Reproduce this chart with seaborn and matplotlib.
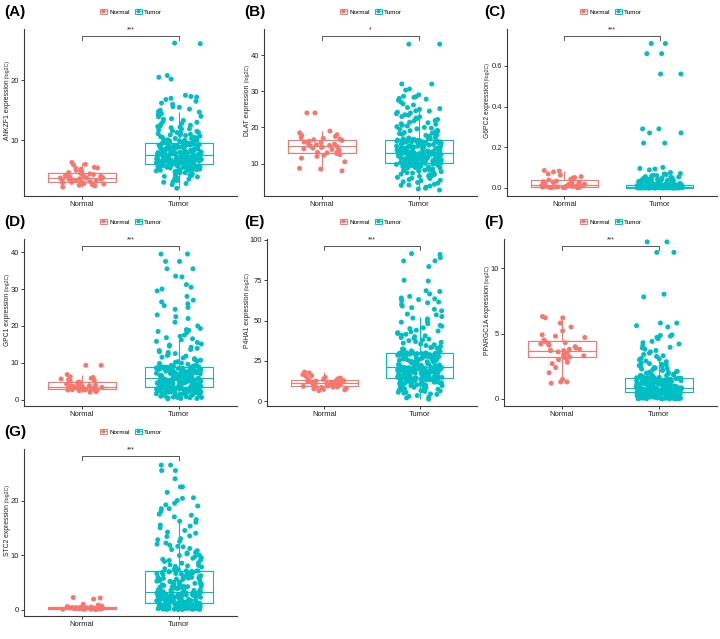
import numpy as np
import pandas as pd
import matplotlib
matplotlib.use("Agg")
import matplotlib.pyplot as plt
import matplotlib.transforms as mtransforms
import seaborn as sns
from matplotlib.patches import Patch
from matplotlib.lines import Line2D

# ---- values ----
genes = ["ANKZF1", "DLAT", "G6PC2", "GPC1", "P4HA1", "PPARGC1A", "STC2"]
panel_labels = ["(A)", "(B)", "(C)", "(D)", "(E)", "(F)", "(G)"]
signif = ["***", "*", "***", "***", "***", "***", "***"]
groups = ["Normal", "Tumor"]

yticks = [[10, 20], [10, 20, 30, 40], [0.0, 0.2, 0.4, 0.6], [0, 10, 20, 30, 40],
          [0, 25, 50, 75, 100], [0, 5, 10], [0, 10, 20]]
ytick_labels = [["10", "20"], ["10", "20", "30", "40"], ["0.0", "0.2", "0.4", "0.6"],
                ["0", "10", "20", "30", "40"], ["0", "25", "50", "75", "100"],
                ["0", "5", "10"], ["0", "10", "20"]]
ylims = [(0.8, 28.5), (1.2, 47.1), (-0.038, 0.78), (-1.6, 43.5),
         (-2.7, 100.4), (-0.5, 12.2), (-1.1, 29.4)]

normal_ankzf1 = [2.2, 2.4, 2.5, 2.6, 2.7, 2.8, 2.8, 2.9, 3.0, 3.0, 3.1, 3.2, 3.3, 3.3, 3.4, 3.5,
                 3.5, 3.6, 3.6, 3.7, 3.7, 3.8, 3.9, 3.9, 4.0, 4.1, 4.2, 4.3, 4.4, 4.5, 4.6, 4.8,
                 5.0, 5.2, 5.3, 5.4, 5.5, 5.9, 6.0, 6.3]
tumor_ankzf1 = [2.0, 2.6, 2.8, 3.1, 3.3, 3.5, 3.7, 3.9, 4.0, 4.2, 4.3, 4.5, 4.6, 4.7, 4.8, 4.9,
                5.0, 5.0, 5.1, 5.2, 5.2, 5.3, 5.4, 5.4, 5.5, 5.5, 5.6, 5.6, 5.7, 5.7, 5.8, 5.8,
                5.9, 5.9, 5.9, 6.0, 6.0, 6.0, 6.1, 6.1,
                3.0, 3.4, 3.8, 4.1, 4.4, 4.6, 4.8, 5.0, 5.1, 5.2, 5.3, 5.4, 5.5, 5.6, 5.6, 5.7,
                5.7, 5.8, 5.8, 5.9, 5.9, 6.0, 6.0, 6.05, 6.1,
                6.1, 6.2, 6.2, 6.2, 6.3, 6.3, 6.3, 6.4, 6.4, 6.4, 6.5, 6.5, 6.5, 6.6, 6.6, 6.6,
                6.7, 6.7, 6.8, 6.8, 6.8, 6.9, 6.9, 6.9, 7.0, 7.0, 7.0, 7.1, 7.1, 7.1, 7.2, 7.2,
                7.2, 7.3, 7.3, 7.3, 7.4, 7.4, 7.4, 7.5,
                6.15, 6.2, 6.25, 6.3, 6.35, 6.4, 6.45, 6.5, 6.55, 6.6, 6.65, 6.7, 6.75, 6.8,
                6.85, 6.9, 6.95, 7.0, 7.05, 7.1, 7.15, 7.2, 7.3, 7.4, 7.45,
                7.5, 7.6, 7.6, 7.7, 7.7, 7.8, 7.8, 7.9, 7.9, 8.0, 8.0, 8.1, 8.1, 8.2, 8.2, 8.3,
                8.4, 8.4, 8.5, 8.5, 8.6, 8.7, 8.7, 8.8, 8.8, 8.9, 9.0, 9.0, 9.1, 9.1, 9.2, 9.2,
                9.3, 9.3, 9.4, 9.4, 9.5, 9.5, 9.6, 9.6,
                7.55, 7.65, 7.75, 7.85, 7.95, 8.05, 8.15, 8.25, 8.35, 8.45, 8.55, 8.65, 8.75,
                8.85, 8.95, 9.05, 9.15, 9.25, 9.3, 9.35, 9.4, 9.45, 9.5, 9.55, 9.6,
                9.7, 9.8, 9.9, 10.0, 10.1, 10.2, 10.3, 10.4, 10.5, 10.6, 10.8, 10.9, 11.0, 11.2,
                11.3, 11.5, 11.7, 11.9, 12.1, 12.3, 12.5, 12.8, 13.0, 13.3, 13.6, 14.0, 14.4,
                14.8, 15.2, 15.6, 16.0, 16.5, 17.0, 17.2, 17.5, 20.2, 20.5, 20.8, 26.1, 26.2,
                9.7, 9.85, 10.0, 10.15, 10.3, 10.5, 10.7, 10.9, 11.1, 11.3, 11.6, 11.9, 12.2,
                12.4, 12.7, 13.1, 13.5, 13.9, 14.3, 14.7, 15.0, 15.5, 16.2, 16.8, 17.3]

normal_dlat = [8.0, 8.5, 8.7, 10.5, 11.5, 12.0, 12.3, 12.5, 12.8, 13.0, 13.1, 13.3, 13.5, 13.7,
               13.9, 14.1, 14.3, 14.5, 14.6, 14.7, 14.9, 15.0, 15.2, 15.4, 15.6, 15.8, 16.0,
               16.2, 16.4, 16.6, 16.8, 17.0, 17.2, 17.5, 17.8, 18.0, 18.5, 19.0, 24.0, 24.0]
tumor_dlat = [2.7, 3.0, 3.5, 3.8, 4.0, 4.3, 4.6, 5.0, 5.3, 5.6, 5.9, 6.2, 6.5, 6.7, 6.9, 7.1,
              7.3, 7.5, 7.7, 7.9, 8.1, 8.3, 8.5, 8.6, 8.8, 8.9, 9.0, 9.2, 9.3, 9.4, 9.5, 9.6,
              9.7, 9.8, 9.9, 9.9, 10.0, 10.0, 10.1, 10.1,
              3.2, 4.1, 4.8, 5.4, 6.0, 6.6, 7.0, 7.4, 7.8, 8.2, 8.4, 8.7, 8.9, 9.1, 9.3, 9.45,
              9.55, 9.65, 9.75, 9.85, 9.9, 9.95, 10.0, 10.05, 10.1,
              10.2, 10.3, 10.4, 10.5, 10.6, 10.7, 10.8, 10.9, 11.0, 11.1, 11.2, 11.3, 11.4,
              11.5, 11.5, 11.6, 11.7, 11.8, 11.9, 12.0, 12.0, 12.1, 12.2, 12.3, 12.3, 12.4,
              12.5, 12.5, 12.6, 12.6, 12.7, 12.7, 12.8, 12.8, 12.9, 12.9, 12.9, 13.0, 13.0, 13.0,
              10.2, 10.35, 10.5, 10.65, 10.8, 10.95, 11.1, 11.25, 11.4, 11.55, 11.7, 11.85,
              12.0, 12.1, 12.2, 12.3, 12.4, 12.5, 12.6, 12.7, 12.75, 12.8, 12.85, 12.9, 12.95,
              13.1, 13.2, 13.3, 13.4, 13.5, 13.6, 13.7, 13.8, 13.9, 14.0, 14.1, 14.2, 14.3,
              14.4, 14.5, 14.6, 14.7, 14.8, 14.9, 15.0, 15.1, 15.2, 15.3, 15.4, 15.5, 15.6,
              15.7, 15.8, 15.9, 16.0, 16.0, 16.1, 16.1, 16.2, 16.2, 16.3, 16.3, 16.4, 16.4, 16.4,
              13.05, 13.2, 13.35, 13.5, 13.65, 13.8, 13.95, 14.1, 14.25, 14.4, 14.55, 14.7,
              14.85, 15.0, 15.15, 15.3, 15.45, 15.6, 15.75, 15.9, 16.0, 16.1, 16.2, 16.3, 16.35,
              16.5, 16.7, 16.9, 17.1, 17.3, 17.5, 17.8, 18.0, 18.3, 18.6, 18.9, 19.2, 19.5,
              19.8, 20.2, 20.6, 21.0, 21.4, 21.8, 22.2, 22.6, 23.0, 23.4, 23.8, 24.2, 24.6,
              25.0, 25.5, 26.2, 27.0, 27.8, 28.3, 28.6, 29.0, 30.3, 30.6, 32.0, 32.0, 43.0, 43.0,
              16.6, 16.8, 17.0, 17.4, 17.7, 18.1, 18.4, 18.8, 19.1, 19.6, 20.0, 20.4, 20.9,
              21.3, 21.9, 22.4, 22.9, 23.5, 24.0, 24.5, 25.2, 26.5, 27.5, 28.0, 28.5]

normal_g6pc2 = [0.000, 0.000, 0.001, 0.001, 0.002, 0.002, 0.003, 0.003, 0.004, 0.005, 0.005,
                0.006, 0.007, 0.008, 0.009, 0.010, 0.011, 0.012, 0.013, 0.014, 0.016, 0.018,
                0.020, 0.022, 0.024, 0.026, 0.028, 0.030, 0.033, 0.036, 0.038, 0.042, 0.048,
                0.050, 0.055, 0.062, 0.068, 0.078, 0.082, 0.085]
tumor_g6pc2 = [0.0, 0.0, 0.0, 0.0, 0.0, 0.0, 0.0, 0.0, 0.0, 0.0, 0.0, 0.0, 0.0, 0.0, 0.0, 0.0,
               0.0, 0.0, 0.0, 0.0, 0.0, 0.0, 0.0, 0.0, 0.0003, 0.0003, 0.0003, 0.0003, 0.0005,
               0.0005, 0.0005, 0.0005, 0.0008, 0.0008, 0.0008, 0.0008, 0.001, 0.001, 0.001, 0.001,
               0.0, 0.0, 0.0, 0.0, 0.0, 0.0, 0.0, 0.0, 0.0, 0.0, 0.0, 0.0, 0.0, 0.0, 0.0,
               0.0005, 0.0005, 0.0005, 0.0005, 0.0005, 0.001, 0.001, 0.001, 0.001, 0.001,
               0.0011, 0.0012, 0.0013, 0.0014, 0.0015, 0.0016, 0.0017, 0.0018, 0.0019, 0.002,
               0.0021, 0.0022, 0.0023, 0.0024, 0.0025, 0.0026, 0.0027, 0.0028, 0.0029, 0.003,
               0.003, 0.0031, 0.0032, 0.0033, 0.0033, 0.0034, 0.0035, 0.0035, 0.0036, 0.0036,
               0.0037, 0.0037, 0.0038, 0.0038, 0.0039, 0.0039, 0.004, 0.004, 0.004, 0.004,
               0.0012, 0.0014, 0.0016, 0.0018, 0.002, 0.0022, 0.0024, 0.0026, 0.0028, 0.003,
               0.0031, 0.0032, 0.0033, 0.0034, 0.0035, 0.0036, 0.0037, 0.0038, 0.0038, 0.0039,
               0.0039, 0.004, 0.004, 0.004, 0.004,
               0.0042, 0.0044, 0.0046, 0.0048, 0.005, 0.0052, 0.0054, 0.0056, 0.0058, 0.006,
               0.0062, 0.0064, 0.0066, 0.0068, 0.007, 0.0072, 0.0074, 0.0076, 0.0078, 0.008,
               0.0082, 0.0084, 0.0086, 0.0088, 0.009, 0.0092, 0.0094, 0.0096, 0.0098, 0.010,
               0.0102, 0.0104, 0.0106, 0.0108, 0.011, 0.0112, 0.0114, 0.0116, 0.0118, 0.012,
               0.0045, 0.005, 0.0055, 0.006, 0.0065, 0.007, 0.0075, 0.008, 0.0085, 0.009,
               0.0095, 0.010, 0.0103, 0.0106, 0.0109, 0.0112, 0.0115, 0.0118, 0.012, 0.012,
               0.005, 0.006, 0.007, 0.008, 0.009,
               0.013, 0.014, 0.015, 0.016, 0.017, 0.018, 0.019, 0.020, 0.021, 0.023, 0.025,
               0.027, 0.029, 0.031, 0.033, 0.035, 0.037, 0.039, 0.041, 0.043, 0.045, 0.048,
               0.051, 0.055, 0.060, 0.065, 0.070, 0.088, 0.092, 0.100, 0.22, 0.22, 0.27, 0.27,
               0.29, 0.29, 0.56, 0.56, 0.66, 0.66, 0.71, 0.71,
               0.013, 0.015, 0.017, 0.019, 0.021, 0.022, 0.024, 0.026, 0.028, 0.030, 0.032,
               0.034, 0.036, 0.038, 0.040, 0.042, 0.044, 0.046, 0.050, 0.053, 0.057, 0.062,
               0.068, 0.075, 0.095]

normal_gpc1 = [2.0, 2.2, 2.3, 2.4, 2.5, 2.6, 2.6, 2.7, 2.8, 2.8, 2.9, 3.0, 3.0, 3.1, 3.2, 3.2,
               3.3, 3.3, 3.4, 3.5, 3.5, 3.6, 3.7, 3.8, 3.9, 4.0, 4.2, 4.4, 4.6, 4.8, 5.0, 5.2,
               5.4, 5.6, 5.8, 6.0, 6.2, 6.8, 9.3, 9.3]
tumor_gpc1 = [0.2, 0.3, 0.4, 0.5, 0.6, 0.7, 0.8, 0.9, 1.0, 1.1, 1.2, 1.3, 1.4, 1.5, 1.6, 1.7,
              1.8, 1.9, 2.0, 2.1, 2.2, 2.3, 2.4, 2.5, 2.5, 2.6, 2.7, 2.8, 2.8, 2.9, 2.9, 3.0,
              3.0, 3.1, 3.1, 3.2, 3.2, 3.2, 3.3, 3.3,
              0.3, 0.6, 0.9, 1.2, 1.4, 1.6, 1.8, 2.0, 2.2, 2.3, 2.4, 2.5, 2.6, 2.7, 2.75, 2.8,
              2.85, 2.9, 2.95, 3.0, 3.05, 3.1, 3.15, 3.2, 3.25,
              3.4, 3.5, 3.5, 3.6, 3.7, 3.8, 3.8, 3.9, 4.0, 4.1, 4.1, 4.2, 4.3, 4.4, 4.4, 4.5,
              4.6, 4.6, 4.7, 4.8, 4.8, 4.9, 5.0, 5.0, 5.1, 5.2, 5.2, 5.3, 5.3, 5.4, 5.4, 5.5,
              5.5, 5.6, 5.6, 5.7, 5.7, 5.7, 5.8, 5.8,
              3.35, 3.45, 3.55, 3.65, 3.75, 3.85, 3.95, 4.05, 4.15, 4.25, 4.35, 4.45, 4.55,
              4.65, 4.75, 4.85, 4.95, 5.05, 5.15, 5.25, 5.35, 5.45, 5.55, 5.65, 5.75,
              5.9, 6.0, 6.1, 6.2, 6.3, 6.4, 6.5, 6.6, 6.7, 6.8, 6.9, 7.0, 7.0, 7.1, 7.2, 7.3,
              7.4, 7.5, 7.6, 7.7, 7.7, 7.8, 7.9, 8.0, 8.0, 8.1, 8.2, 8.2, 8.3, 8.4, 8.4, 8.5,
              8.5, 8.6, 8.6, 8.7, 8.7, 8.8, 8.8, 8.8,
              5.95, 6.1, 6.25, 6.4, 6.55, 6.7, 6.85, 7.0, 7.15, 7.3, 7.45, 7.6, 7.75, 7.9, 8.0,
              8.1, 8.2, 8.3, 8.4, 8.5, 8.55, 8.6, 8.65, 8.7, 8.75,
              9.0, 9.3, 9.6, 9.9, 10.3, 10.7, 11.1, 11.5, 12.0, 12.5, 13.0, 13.6, 14.2, 14.8,
              15.5, 16.2, 16.8, 17.5, 18.2, 18.8, 19.3, 20.0, 21.0, 22.5, 23.0, 24.5, 25.5,
              26.5, 27.0, 29.5, 30.0, 31.2, 33.3, 33.5, 35.5, 35.5, 37.5, 37.5, 39.5, 39.5,
              8.9, 9.1, 9.4, 9.8, 10.1, 10.5, 10.9, 11.3, 11.8, 12.3, 12.8, 13.3, 13.9, 14.5,
              15.1, 15.8, 16.5, 17.2, 18.5, 19.0, 22.0, 25.0, 26.0, 28.0, 30.5]

normal_p4ha1 = [6.5, 7.0, 7.3, 7.6, 8.0, 8.3, 8.5, 8.7, 8.9, 9.0, 9.2, 9.4, 9.6, 9.8, 10.0,
                10.2, 10.4, 10.6, 10.8, 10.9, 11.1, 11.3, 11.5, 11.7, 11.9, 12.1, 12.3, 12.5,
                12.7, 13.0, 13.2, 13.5, 13.9, 14.3, 14.8, 15.2, 15.8, 16.5, 17.5, 18.0]
tumor_p4ha1 = [1.2, 2.5, 3.5, 4.2, 5.0, 5.5, 6.0, 6.5, 7.0, 7.4, 7.8, 8.2, 8.6, 9.0, 9.3, 9.6,
               9.9, 10.2, 10.5, 10.8, 11.0, 11.3, 11.5, 11.8, 12.0, 12.2, 12.4, 12.6, 12.8,
               13.0, 13.2, 13.4, 13.6, 13.8, 13.9, 14.0, 14.2, 14.3, 14.4, 14.5,
               2.0, 3.0, 4.5, 5.5, 6.3, 7.0, 7.7, 8.4, 9.0, 9.6, 10.1, 10.6, 11.1, 11.5, 11.9,
               12.3, 12.7, 13.0, 13.3, 13.6, 13.8, 14.0, 14.2, 14.35, 14.45,
               14.7, 14.9, 15.1, 15.3, 15.5, 15.7, 15.9, 16.1, 16.3, 16.5, 16.7, 16.9, 17.1,
               17.3, 17.5, 17.7, 17.9, 18.1, 18.3, 18.5, 18.7, 18.9, 19.1, 19.3, 19.4, 19.5,
               19.7, 19.8, 19.9, 20.0, 20.1, 20.2, 20.3, 20.4, 20.5, 20.6, 20.7, 20.8, 20.9, 21.0,
               14.6, 14.9, 15.2, 15.5, 15.8, 16.1, 16.4, 16.7, 17.0, 17.3, 17.6, 17.9, 18.2,
               18.5, 18.8, 19.1, 19.4, 19.6, 19.8, 20.0, 20.2, 20.4, 20.6, 20.8, 20.95,
               21.2, 21.4, 21.6, 21.8, 22.0, 22.3, 22.6, 22.9, 23.2, 23.5, 23.8, 24.1, 24.4,
               24.7, 25.0, 25.3, 25.6, 25.9, 26.2, 26.5, 26.8, 27.1, 27.3, 27.5, 27.7, 27.9,
               28.1, 28.3, 28.5, 28.7, 28.9, 29.1, 29.3, 29.4, 29.5, 29.6, 29.7, 29.8, 29.9, 30.0,
               21.3, 21.7, 22.1, 22.5, 22.9, 23.3, 23.7, 24.1, 24.5, 24.9, 25.3, 25.7, 26.1,
               26.5, 26.9, 27.3, 27.7, 28.1, 28.5, 28.8, 29.1, 29.4, 29.6, 29.8, 29.95,
               30.5, 31.2, 32.0, 32.8, 33.5, 34.5, 35.5, 36.5, 37.5, 38.5, 39.5, 40.5, 41.5,
               42.5, 43.5, 45.0, 46.5, 48.0, 49.5, 51.0, 52.5, 54.0, 56.0, 58.0, 60.0, 61.5,
               62.5, 63.0, 63.5, 65.0, 66.5, 68.5, 74.5, 75.0, 83.5, 87.0, 87.0, 89.0, 91.0, 91.5,
               30.8, 31.5, 32.4, 33.2, 34.0, 35.0, 36.0, 37.0, 38.0, 39.0, 40.0, 41.0, 42.0,
               43.0, 44.0, 45.5, 47.0, 49.0, 51.5, 53.5, 57.0, 59.0, 61.0, 64.0, 68.0]

normal_ppargc1a = [1.2, 1.3, 1.3, 1.5, 2.0, 2.4, 2.7, 2.8, 3.0, 3.1, 3.2, 3.2, 3.3, 3.4, 3.5,
                   3.5, 3.6, 3.6, 3.7, 3.7, 3.7, 3.8, 3.8, 3.9, 4.0, 4.1, 4.2, 4.2, 4.3, 4.4,
                   4.5, 4.7, 4.8, 4.9, 5.2, 5.5, 5.8, 6.2, 6.2, 6.3]
tumor_ppargc1a = [0.00, 0.01, 0.02, 0.03, 0.04, 0.05, 0.06, 0.07, 0.08, 0.09, 0.10, 0.12, 0.14,
                  0.16, 0.18, 0.20, 0.21, 0.22, 0.24, 0.25, 0.27, 0.28, 0.30, 0.31, 0.32, 0.34,
                  0.35, 0.36, 0.38, 0.39, 0.40, 0.41, 0.42, 0.43, 0.44, 0.45, 0.46, 0.47, 0.48, 0.50,
                  0.0, 0.0, 0.02, 0.04, 0.06, 0.08, 0.10, 0.13, 0.16, 0.19, 0.22, 0.25, 0.28, 0.30,
                  0.32, 0.34, 0.36, 0.38, 0.40, 0.42, 0.44, 0.45, 0.46, 0.47, 0.49,
                  0.51, 0.52, 0.53, 0.54, 0.55, 0.56, 0.57, 0.58, 0.59, 0.60, 0.61, 0.62, 0.63,
                  0.64, 0.65, 0.66, 0.67, 0.68, 0.69, 0.70, 0.71, 0.72, 0.73, 0.74, 0.75, 0.76,
                  0.77, 0.77, 0.78, 0.79, 0.80, 0.80, 0.81, 0.82, 0.82, 0.83, 0.83, 0.84, 0.84, 0.85,
                  0.51, 0.52, 0.54, 0.55, 0.57, 0.58, 0.60, 0.61, 0.63, 0.64, 0.66, 0.67, 0.69,
                  0.70, 0.72, 0.73, 0.75, 0.76, 0.78, 0.79, 0.80, 0.81, 0.82, 0.83, 0.84,
                  0.87, 0.89, 0.91, 0.93, 0.95, 0.97, 0.99, 1.01, 1.03, 1.05, 1.07, 1.09, 1.11,
                  1.13, 1.15, 1.17, 1.19, 1.21, 1.23, 1.25, 1.27, 1.29, 1.31, 1.33, 1.35, 1.37,
                  1.39, 1.41, 1.43, 1.45, 1.47, 1.49, 1.50, 1.52, 1.53, 1.55, 1.56, 1.58, 1.59, 1.60,
                  0.86, 0.90, 0.94, 0.98, 1.02, 1.06, 1.10, 1.14, 1.18, 1.22, 1.26, 1.30, 1.34,
                  1.38, 1.42, 1.46, 1.50, 1.52, 1.54, 1.55, 1.56, 1.57, 1.58, 1.59, 1.60,
                  1.65, 1.70, 1.75, 1.80, 1.86, 1.92, 1.98, 2.05, 2.12, 2.20, 2.28, 2.36, 2.45,
                  2.55, 2.65, 2.75, 2.90, 3.00, 3.10, 3.25, 3.40, 3.60, 3.70, 3.80, 3.90, 4.10,
                  4.20, 4.40, 4.70, 4.80, 4.90, 5.50, 5.80, 5.80, 7.80, 8.00, 11.2, 11.2, 12.0, 12.0,
                  1.62, 1.68, 1.74, 1.80, 1.85, 1.90, 1.96, 2.02, 2.10, 2.18, 2.25, 2.32, 2.40,
                  2.50, 2.60, 2.70, 2.85, 3.05, 3.30, 3.50, 3.95, 4.30, 4.60, 4.85, 5.60]

normal_stc2 = [0.00, 0.02, 0.04, 0.06, 0.08, 0.10, 0.12, 0.13, 0.14, 0.15, 0.16, 0.18, 0.19,
               0.20, 0.22, 0.24, 0.25, 0.26, 0.28, 0.29, 0.30, 0.31, 0.32, 0.33, 0.34, 0.35,
               0.36, 0.37, 0.38, 0.40, 0.42, 0.45, 0.50, 0.55, 0.65, 0.80, 0.95, 1.90, 2.10, 2.20]
tumor_stc2 = [0.00, 0.03, 0.05, 0.08, 0.10, 0.13, 0.15, 0.18, 0.20, 0.23, 0.25, 0.28, 0.30,
              0.33, 0.36, 0.39, 0.42, 0.45, 0.48, 0.51, 0.54, 0.57, 0.60, 0.63, 0.66, 0.69,
              0.72, 0.75, 0.78, 0.81, 0.85, 0.89, 0.93, 0.97, 1.01, 1.05, 1.09, 1.13, 1.17, 1.20,
              0.00, 0.02, 0.05, 0.08, 0.12, 0.16, 0.20, 0.25, 0.30, 0.35, 0.40, 0.45, 0.50,
              0.55, 0.60, 0.65, 0.70, 0.75, 0.80, 0.86, 0.92, 0.98, 1.04, 1.10, 1.16,
              1.25, 1.30, 1.35, 1.40, 1.45, 1.50, 1.55, 1.60, 1.65, 1.70, 1.75, 1.80, 1.85,
              1.90, 1.95, 2.00, 2.05, 2.10, 2.15, 2.20, 2.25, 2.30, 2.35, 2.40, 2.45, 2.50,
              2.55, 2.60, 2.65, 2.70, 2.75, 2.80, 2.85, 2.90, 2.95, 3.00, 3.05, 3.10, 3.15, 3.20,
              1.28, 1.36, 1.44, 1.52, 1.60, 1.68, 1.76, 1.84, 1.92, 2.00, 2.08, 2.16, 2.24,
              2.32, 2.40, 2.48, 2.56, 2.64, 2.72, 2.80, 2.88, 2.96, 3.04, 3.12, 3.18,
              3.3, 3.4, 3.5, 3.6, 3.7, 3.8, 3.9, 4.0, 4.1, 4.2, 4.3, 4.4, 4.5, 4.6, 4.7, 4.8,
              4.9, 5.0, 5.1, 5.2, 5.3, 5.4, 5.5, 5.6, 5.7, 5.8, 5.9, 6.0, 6.1, 6.2, 6.3, 6.4,
              6.5, 6.6, 6.7, 6.8, 6.9, 7.0, 7.05, 7.1,
              3.35, 3.5, 3.65, 3.8, 3.95, 4.1, 4.25, 4.4, 4.55, 4.7, 4.85, 5.0, 5.15, 5.3,
              5.45, 5.6, 5.75, 5.9, 6.05, 6.2, 6.4, 6.6, 6.8, 6.95, 7.08,
              7.3, 7.6, 7.9, 8.2, 8.5, 8.8, 9.1, 9.4, 9.7, 10.0, 10.4, 10.8, 11.2, 11.6, 12.0,
              12.5, 13.0, 13.5, 14.0, 14.5, 15.0, 15.5, 16.0, 16.5, 17.0, 17.5, 18.0, 18.5,
              19.0, 19.5, 20.0, 20.5, 21.5, 22.5, 22.5, 24.0, 25.5, 25.5, 26.5, 26.5,
              7.4, 7.5, 7.8, 8.0, 8.1, 8.6, 9.0, 9.2, 9.5, 9.9, 10.2, 10.5, 11.0, 11.5, 11.8,
              12.2, 12.8, 13.4, 14.2, 15.3, 16.2, 17.3, 18.5, 19.2, 20.4]

normal_values = [normal_ankzf1, normal_dlat, normal_g6pc2, normal_gpc1,
                 normal_p4ha1, normal_ppargc1a, normal_stc2]
tumor_values = [tumor_ankzf1, tumor_dlat, tumor_g6pc2, tumor_gpc1,
                tumor_p4ha1, tumor_ppargc1a, tumor_stc2]

# ---- styling ----
palette = {"Normal": "#F8766D", "Tumor": "#00BFC4"}
axis_col = "#3a3a3a"
plt.rcParams["font.family"] = ["Liberation Sans", "DejaVu Sans"]

W, H = 720, 639
fig = plt.figure(figsize=(7.2, 6.39), dpi=100)
np.random.seed(7)

# left edge of each panel's y axis, in pixels from the panel corner
axis_left = [24, 24, 27, 24, 27, 24, 24]

legend_handles = [
    (Patch(facecolor="white", edgecolor=palette[g], linewidth=0.7),
     Line2D([0], [0], color=palette[g], lw=0.6, marker="o", markersize=1.8))
    for g in groups
]

label_items = []
for i, gene in enumerate(genes):
    col, row = i % 3, i // 3
    x0, y0 = col * 240, row * 210
    left, right = x0 + axis_left[i], x0 + 237
    top, bottom = y0 + 29.3, y0 + 195.5
    ax = fig.add_axes([left / W, 1 - bottom / H, (right - left) / W, (bottom - top) / H])

    df = pd.DataFrame({
        "group": ["Normal"] * len(normal_values[i]) + ["Tumor"] * len(tumor_values[i]),
        "value": normal_values[i] + tumor_values[i],
    })

    sns.stripplot(data=df, x="group", y="value", hue="group", palette=palette,
                  order=groups, jitter=0.235, size=3.6, linewidth=0, legend=False,
                  ax=ax, zorder=2)
    sns.boxplot(data=df, x="group", y="value", hue="group", palette=palette,
                order=groups, fill=False, width=0.7, showfliers=False, showcaps=False,
                linewidth=0.8, whis=1.5, legend=False, ax=ax, zorder=3)

    ax.set_xlim(-0.6, 1.6)
    ax.set_ylim(*ylims[i])
    ax.set_yticks(yticks[i])
    ax.set_yticklabels(ytick_labels[i])
    ax.set_xlabel("")
    ax.set_ylabel("")
    for s in ["top", "right"]:
        ax.spines[s].set_visible(False)
    for s in ["left", "bottom"]:
        ax.spines[s].set_color(axis_col)
        ax.spines[s].set_linewidth(0.8)
    ax.tick_params(axis="both", length=2.5, width=0.7, color=axis_col,
                   labelsize=5.5, labelcolor="#222222", pad=1.2)

    # significance bracket
    trans = mtransforms.blended_transform_factory(ax.transData, ax.transAxes)
    ax.plot([0, 0, 1, 1], [0.935, 0.962, 0.962, 0.935], transform=trans,
            color="#555555", lw=0.7, clip_on=False)
    ax.text(0.5, 0.975, signif[i], transform=trans, ha="center", va="bottom",
            fontsize=4.8, color="#222222")

    # legend on top
    ax.legend(legend_handles, groups, loc="center",
              bbox_to_anchor=((x0 + 131 - left) / (right - left), 1.105),
              ncol=2, frameon=False, fontsize=4.6, handlelength=1.1, handleheight=0.9,
              handletextpad=0.4, columnspacing=0.8, borderaxespad=0)

    # panel label
    fig.text((x0 + 4) / W, 1 - (y0 + 12) / H, panel_labels[i], fontsize=11,
             fontweight="bold", ha="left", va="center")

    # y label: gene name + smaller unit
    t_main = fig.text((x0 + 9) / W, 0.5, gene + " expression", rotation=90,
                      rotation_mode="anchor", ha="right", va="baseline",
                      fontsize=4.9, color="#222222")
    t_unit = fig.text((x0 + 9) / W, 0.5, " (log2C)", rotation=90,
                      rotation_mode="anchor", ha="left", va="baseline",
                      fontsize=3.8, color="#222222")
    label_items.append((t_main, t_unit, (top + bottom) / 2))

# center each two-part y label a little above its axis middle
renderer = fig.canvas.get_renderer()
for t_main, t_unit, yc in label_items:
    h_main = t_main.get_window_extent(renderer).height
    h_unit = t_unit.get_window_extent(renderer).height
    anchor = (H - yc) - (h_main + h_unit) / 2 + h_main + 12
    t_main.set_y(anchor / H)
    t_unit.set_y(anchor / H)

fig.savefig("out.png", dpi=100, facecolor="white")
